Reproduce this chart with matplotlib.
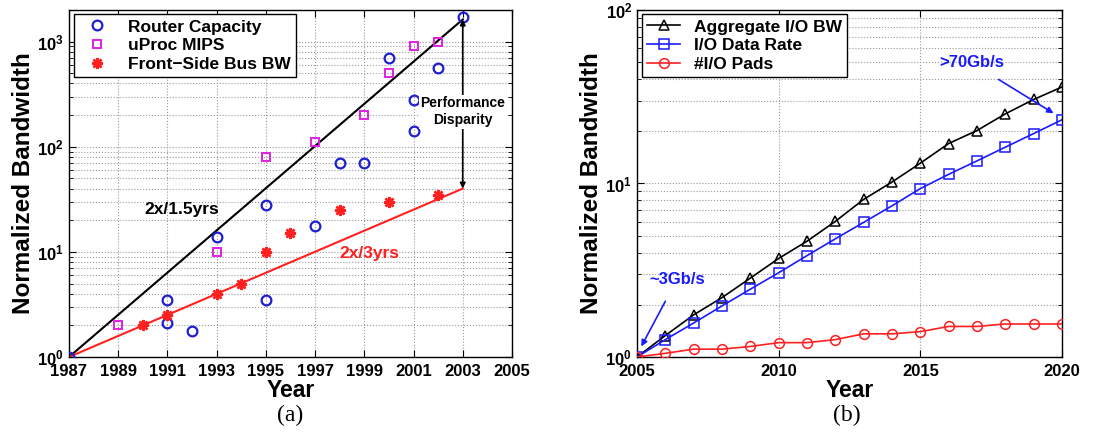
import numpy as np
import matplotlib
matplotlib.use("Agg")
from matplotlib import pyplot as plt
from matplotlib.ticker import FixedLocator, LogLocator, NullFormatter, FuncFormatter

# (a) historical data
router_years = [1987, 1991, 1991, 1992, 1993, 1995, 1995, 1997, 1998, 1999, 2000, 2001, 2001, 2002, 2003]
router_bw = [1.0, 3.5, 2.1, 1.75, 14, 28, 3.5, 17.5, 70, 70, 700, 280, 140, 560, 1700]
mips_years = [1989, 1993, 1995, 1997, 1999, 2000, 2001, 2002]
mips_bw = [2.0, 10, 80, 110, 200, 500, 900, 1000]
fsb_years = [1990, 1991, 1993, 1994, 1995, 1996, 1998, 2000, 2002]
fsb_bw = [2.0, 2.5, 4.0, 5.0, 10, 15, 25, 30, 35]
trend_years = [1987, 2003]
trend_fast = [1.0, 1625]
trend_slow = [1.0, 40]

# (b) projection
proj_years = list(range(2005, 2021))
aggregate_bw = [1.0, 1.33, 1.75, 2.2, 2.85, 3.7, 4.65, 6.05, 8.1, 10.2, 13.1, 17.0, 20.2, 25.2, 30.5, 36.0]
data_rate = [1.0, 1.26, 1.57, 1.97, 2.46, 3.06, 3.84, 4.8, 5.97, 7.44, 9.35, 11.3, 13.5, 16.2, 19.4, 23.3]
io_pads = [1.0, 1.05, 1.11, 1.11, 1.15, 1.21, 1.21, 1.26, 1.36, 1.36, 1.40, 1.50, 1.50, 1.55, 1.55, 1.55]

plt.rcParams["font.family"] = ["Liberation Sans", "DejaVu Sans"]
plt.rcParams["font.weight"] = "bold"
plt.rcParams["mathtext.fontset"] = "custom"
plt.rcParams["mathtext.rm"] = "Liberation Sans"
plt.rcParams["mathtext.bf"] = "Liberation Sans:bold"
plt.rcParams["mathtext.it"] = "Liberation Sans:bold"

fig = plt.figure(figsize=(11.05, 4.42), dpi=100)
ax1 = fig.add_axes([0.0624, 0.1923, 0.4009, 0.7851])
ax2 = fig.add_axes([0.5765, 0.1923, 0.3846, 0.7851])

blue = "#1f1fd0"
magenta = "#e020e0"
red = "#ff2020"


def style_axes(ax, yticks):
    ax.set_yscale("log")
    ax.yaxis.set_major_locator(FixedLocator(yticks))
    ax.yaxis.set_minor_locator(LogLocator(base=10, subs=np.arange(2, 10)))
    ax.yaxis.set_minor_formatter(NullFormatter())
    ax.yaxis.set_major_formatter(FuncFormatter(lambda v, p: r"$\mathbf{10}^{\mathrm{%d}}$" % round(np.log10(v))))
    ax.tick_params(which="both", direction="in", top=True, right=True, labelsize=12)
    ax.tick_params(which="major", length=5)
    ax.tick_params(which="minor", length=3)
    ax.tick_params(axis="x", pad=5)
    ax.grid(True, which="major", color="#9a9a9a", linestyle=":", linewidth=0.8)
    ax.grid(True, which="minor", axis="y", color="#9a9a9a", linestyle=":", linewidth=0.8)
    ax.set_axisbelow(True)
    ax.set_xlabel("Year", fontsize=16.5, fontweight="bold", labelpad=0)
    ax.set_ylabel("Normalized Bandwidth", fontsize=17.5, fontweight="bold", labelpad=2)
    for sp in ax.spines.values():
        sp.set_linewidth(1.0)


# ---- (a)
ax1.plot(trend_years, trend_fast, color="black", lw=1.5, zorder=2)
ax1.plot(trend_years, trend_slow, color=red, lw=1.5, zorder=2)
ax1.plot(router_years, router_bw, "o", ls="none", mfc="none", mec=blue, mew=1.6, ms=7,
         label="Router Capacity", zorder=3)
ax1.plot(mips_years, mips_bw, "s", ls="none", mfc="none", mec=magenta, mew=1.4, ms=6,
         label="uProc MIPS", zorder=3)
ax1.plot(fsb_years, fsb_bw, marker=(8, 2, 0), ls="none", color=red, ms=8, mew=1.8,
         label="Front\u2212Side Bus BW", zorder=3)

ax1.annotate("", xy=(2003, trend_fast[-1]), xytext=(2003, trend_slow[-1]),
             arrowprops=dict(arrowstyle="<|-|>", color="black", lw=1.2,
                             mutation_scale=8, shrinkA=0, shrinkB=0), zorder=4)
ax1.text(2003, 215, "Performance\nDisparity", ha="center", va="center", fontsize=10,
         fontweight="bold", linespacing=1.3,
         bbox=dict(facecolor="white", edgecolor="none", pad=1), zorder=5)
ax1.text(1991.6, 25.5, "2x/1.5yrs", ha="center", va="center", fontsize=12.5,
         fontweight="bold", color="black")
ax1.text(1999.2, 9.6, "2x/3yrs", ha="center", va="center", fontsize=12.5,
         fontweight="bold", color=red)

ax1.set_xlim(1987, 2005)
ax1.set_xticks(range(1987, 2006, 2))
ax1.set_ylim(1, 2000)
style_axes(ax1, [1, 10, 100, 1000])
ax1.legend(loc="upper left", bbox_to_anchor=(0.012, 0.988), borderaxespad=0,
           fontsize=12.5, fancybox=False, edgecolor="black", framealpha=1,
           handletextpad=0.8, borderpad=0.3, labelspacing=0.2)

# ---- (b)
ax2.plot(proj_years, aggregate_bw, "^-", color="black", mfc="none", ms=7, lw=1.2, mew=1.1,
         label="Aggregate I/O BW", zorder=3)
ax2.plot(proj_years, data_rate, "s-", color="#1a1aff", mfc="none", ms=6.5, lw=1.2, mew=1.1,
         label="I/O Data Rate", zorder=3)
ax2.plot(proj_years, io_pads, "o-", color=red, mfc="none", ms=7, lw=1.2, mew=1.1,
         label="#I/O Pads", zorder=3)

ax2.annotate("~3Gb/s", xy=(2005.15, 1.15), xytext=(2006.4, 2.78), ha="center", va="center",
             fontsize=12, fontweight="bold", color="#1a1aff",
             arrowprops=dict(arrowstyle="-|>", color="#1a1aff", lw=1.2, mutation_scale=9,
                             shrinkA=9, shrinkB=0))
ax2.annotate(">70Gb/s", xy=(2019.7, 25.4), xytext=(2016.8, 49.7), ha="center", va="center",
             fontsize=12, fontweight="bold", color="#1a1aff",
             arrowprops=dict(arrowstyle="-|>", color="#1a1aff", lw=1.2, mutation_scale=9,
                             shrinkA=9, shrinkB=0))

ax2.set_xlim(2005, 2020)
ax2.set_xticks([2005, 2010, 2015, 2020])
ax2.set_ylim(1, 100)
style_axes(ax2, [1, 10, 100])
ax2.legend(loc="upper left", bbox_to_anchor=(0.012, 0.988), borderaxespad=0,
           fontsize=12.5, fancybox=False, edgecolor="black", framealpha=1,
           handlelength=1.9, handletextpad=0.8, borderpad=0.3, labelspacing=0.2)

fig.text(0.2625, 0.06, "(a)", ha="center", va="center", fontsize=17,
         family="Liberation Serif", fontweight="normal")
fig.text(0.7665, 0.06, "(b)", ha="center", va="center", fontsize=17,
         family="Liberation Serif", fontweight="normal")

fig.savefig("out.png", dpi=100)
